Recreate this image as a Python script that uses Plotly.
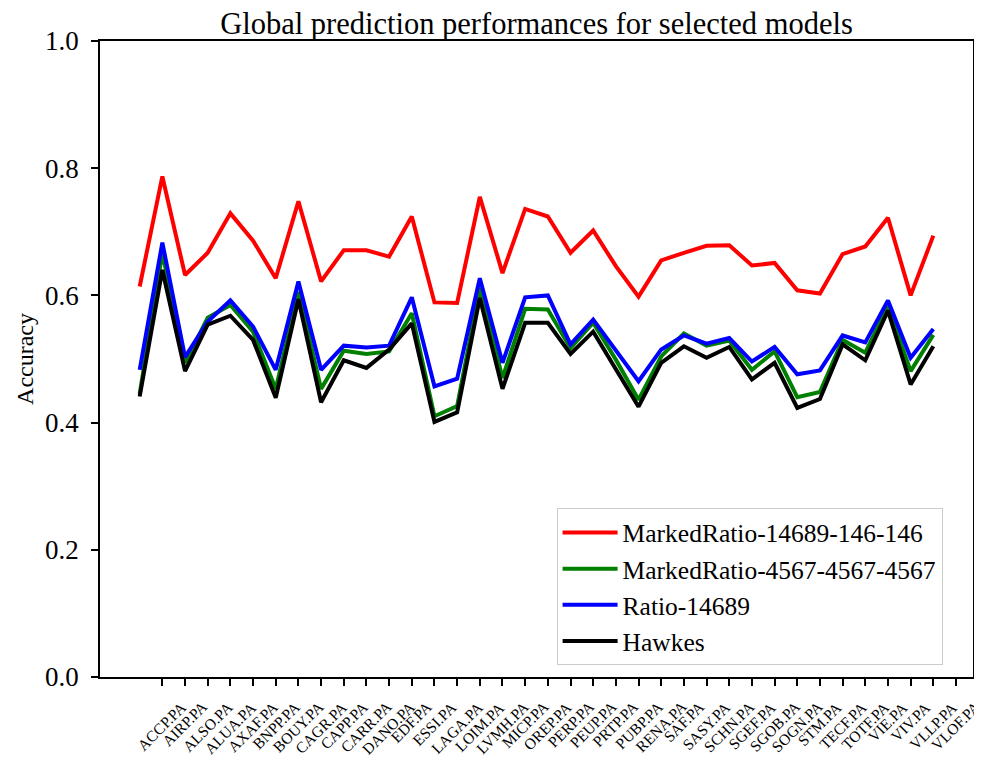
import plotly.graph_objects as go

# tickers (labels sit on ticks 1..36, data points on 0..35)
tickers = ["ACCP.PA", "AIRP.PA", "ALSO.PA", "ALUA.PA", "AXAF.PA", "BNPP.PA", "BOUY.PA",
           "CAGR.PA", "CAPP.PA", "CARR.PA", "DANO.PA", "EDF.PA", "ESSI.PA", "LAGA.PA",
           "LOIM.PA", "LVMH.PA", "MICP.PA", "OREP.PA", "PERP.PA", "PEUP.PA", "PRTP.PA",
           "PUBP.PA", "RENA.PA", "SAF.PA", "SASY.PA", "SCHN.PA", "SGEF.PA", "SGOB.PA",
           "SOGN.PA", "STM.PA", "TECF.PA", "TOTF.PA", "VIE.PA", "VIV.PA", "VLLP.PA", "VLOF.PA"]

marked_ratio_146 = [0.614, 0.787, 0.632, 0.667, 0.729, 0.686, 0.627, 0.748, 0.622, 0.671,
                    0.671, 0.661, 0.724, 0.589, 0.588, 0.755, 0.635, 0.736, 0.724, 0.667,
                    0.702, 0.646, 0.598, 0.655, 0.667, 0.678, 0.679, 0.647, 0.651, 0.608,
                    0.603, 0.665, 0.677, 0.722, 0.600, 0.694]
marked_ratio_4567 = [0.445, 0.667, 0.494, 0.565, 0.585, 0.543, 0.453, 0.606, 0.453, 0.513,
                     0.508, 0.512, 0.572, 0.410, 0.426, 0.612, 0.470, 0.579, 0.578, 0.517,
                     0.557, 0.499, 0.436, 0.504, 0.540, 0.521, 0.529, 0.483, 0.512, 0.440,
                     0.448, 0.530, 0.510, 0.583, 0.481, 0.538]
ratio_14689 = [0.483, 0.683, 0.503, 0.559, 0.592, 0.551, 0.483, 0.622, 0.483, 0.521,
               0.518, 0.521, 0.597, 0.457, 0.469, 0.627, 0.494, 0.597, 0.600, 0.523,
               0.562, 0.514, 0.465, 0.515, 0.537, 0.524, 0.533, 0.496, 0.519, 0.476,
               0.482, 0.537, 0.526, 0.592, 0.502, 0.547]
hawkes = [0.441, 0.640, 0.481, 0.554, 0.568, 0.530, 0.439, 0.594, 0.432, 0.498,
          0.486, 0.515, 0.556, 0.401, 0.416, 0.596, 0.453, 0.557, 0.557, 0.508,
          0.543, 0.483, 0.425, 0.494, 0.520, 0.502, 0.519, 0.468, 0.494, 0.423,
          0.437, 0.523, 0.498, 0.576, 0.460, 0.520]

series = [
    ("MarkedRatio-14689-146-146", marked_ratio_146, "#ff0000"),
    ("MarkedRatio-4567-4567-4567", marked_ratio_4567, "#008000"),
    ("Ratio-14689", ratio_14689, "#0000ff"),
    ("Hawkes", hawkes, "#000000"),
]

FONT = "Liberation Serif, Times New Roman, serif"

# the page body adds an 8px margin, so the figure is 8px smaller than the window
W, H = 974, 751

fig = go.Figure()
for name, vals, color in series:
    fig.add_trace(go.Scatter(x=list(range(len(vals))), y=vals, mode="lines", name=name,
                             line=dict(color=color, width=4)))

# rotated labels centred on their ticks, like matplotlib's rotation=45
for i, t in enumerate(tickers):
    fig.add_annotation(x=i + 1, y=0, xref="x", yref="paper", text=t, showarrow=False,
                       textangle=-45, xanchor="center", yanchor="top", yshift=-18,
                       font=dict(family=FONT, size=15.5, color="black"))

# y label as an annotation so it sits where matplotlib put it
fig.add_annotation(x=-0.086, y=0.5, xref="paper", yref="paper", text="Accuracy",
                   showarrow=False, textangle=-90, xanchor="center", yanchor="middle",
                   font=dict(family=FONT, size=24, color="black"))

axis_common = dict(showline=True, linecolor="black", linewidth=1.5, mirror=True,
                   ticks="outside", ticklen=7, tickwidth=1.5, tickcolor="black",
                   showgrid=False, zeroline=False, automargin=False)

fig.update_xaxes(range=[-1.75, 36.75], tickvals=list(range(1, len(tickers) + 1)),
                 showticklabels=False, **axis_common)
fig.update_yaxes(range=[0, 1], tickvals=[0, 0.2, 0.4, 0.6, 0.8, 1.0],
                 ticktext=["0.0", "0.2", "0.4", "0.6", "0.8", "1.0"],
                 tickfont=dict(family=FONT, size=27, color="black"),
                 ticklabelstandoff=7,
                 **axis_common)

fig.update_layout(
    width=W, height=H,
    margin=dict(l=92, r=9, t=33, b=82),
    paper_bgcolor="white", plot_bgcolor="white",
    font=dict(family=FONT, color="black"),
    title=dict(text="Global prediction performances for selected models",
               font=dict(family=FONT, size=30.5, color="black"),
               x=0.5, xref="paper", xanchor="center",
               y=1 - 15 / H, yref="container", yanchor="middle", automargin=False),
    legend=dict(x=0.523, y=0.265, xanchor="left", yanchor="top",
                bgcolor="white", bordercolor="#cccccc", borderwidth=1,
                font=dict(family=FONT, size=25.5, color="black"),
                itemwidth=55),
    showlegend=True,
)

fig.write_html("out.html")
